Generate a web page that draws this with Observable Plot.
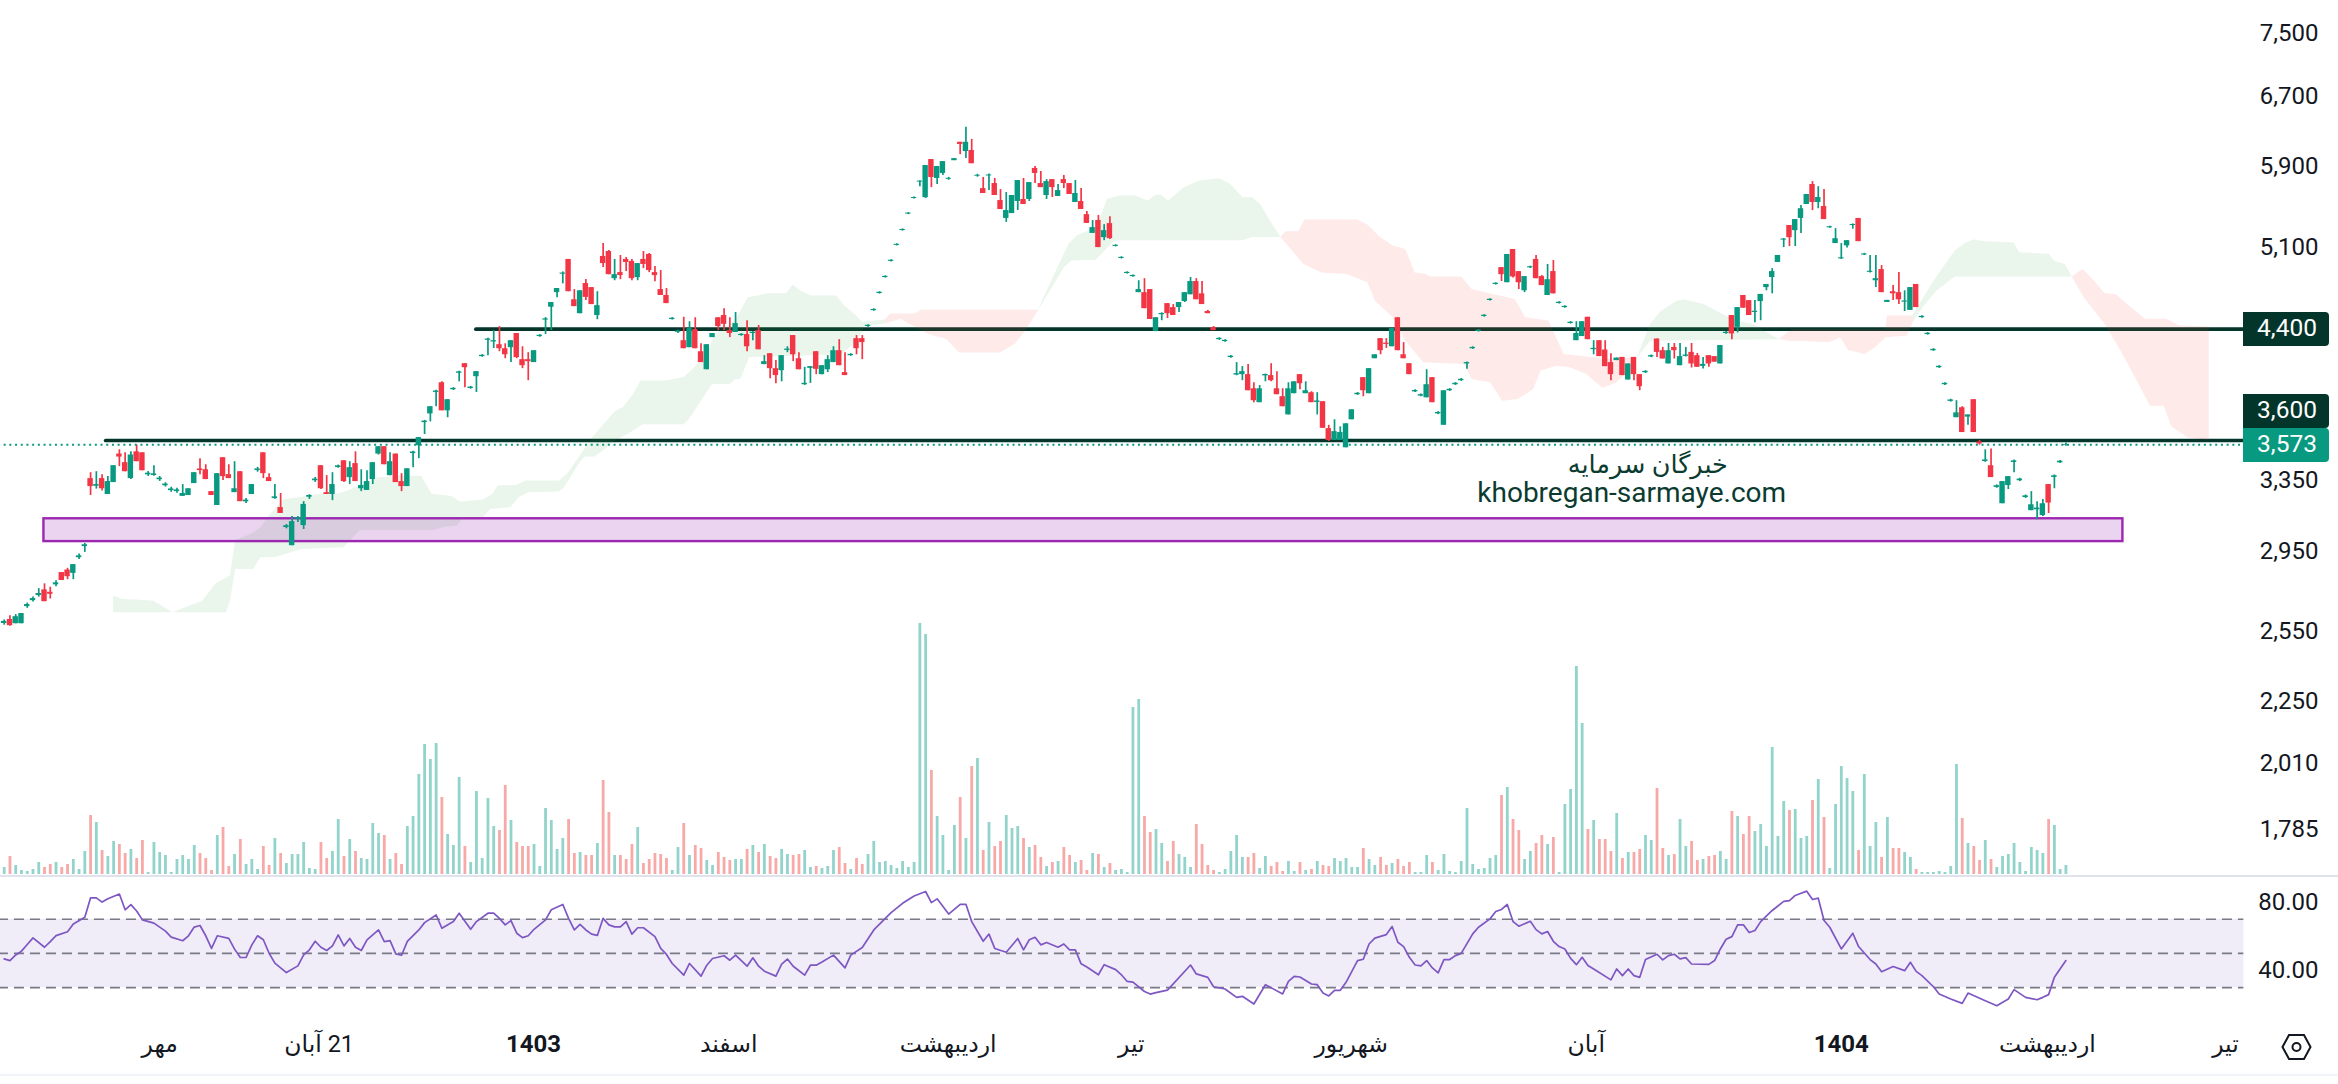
<!DOCTYPE html>
<html lang="fa">
<head>
<meta charset="utf-8">
<script src="https://cdn.jsdelivr.net/npm/d3@7"></script>
<script src="https://cdn.jsdelivr.net/npm/@observablehq/plot@0.6"></script>
<style>
html,body{margin:0;padding:0;background:#fff;}
#chart{position:relative;width:2338px;height:1084px;overflow:hidden;background:#fff;font-family:Roboto,"DejaVu Sans",sans-serif;}
#chart svg.layer{position:absolute;left:0;top:0;}
.tag{position:absolute;left:2243px;width:74px;height:34px;line-height:31px;color:#fff;font-size:24.5px;text-align:right;padding-right:12px;border-radius:0 4px 4px 0;}
.sep{position:absolute;left:0;width:2338px;}
</style>
</head>
<body>
<div id="chart"></div>
<script>
const opens=[
2588,2607,2587,2587,2668,2697,2722,2750,2738,2775,
2837,2850,2833,2914,2973,3361,3315,3361,3266,3337,
3513,3459,3361,3527,3521,3384,3380,3354,3318,3289,
3283,3255,3260,3331,3420,3415,3283,3202,3490,3385,
3277,3403,3223,3266,3410,3521,3367,3242,3190,3077,
2978,3121,3088,3250,3348,3440,3277,3266,3429,3471,
3367,3453,3300,3290,3355,3513,3560,3379,3513,3343,
3313,3516,3566,3718,3777,3926,3995,3798,3945,4064,
4135,3954,4039,4188,4313,4300,4279,4248,4256,4366,
4165,4165,4143,4342,4473,4578,4700,4859,4990,4640,
4525,4778,4743,4510,5017,5062,4820,4873,4990,4972,
4829,4990,5035,4873,4726,4676,4478,4376,4310,4256,
4397,4225,4090,4334,4492,4510,4389,4374,4350,4358,
4366,4389,4128,4210,4098,4083,4235,4350,4172,3981,
4100,4225,4054,4090,4143,4233,4069,4195,4326,4326,
4421,4550,4693,4830,4973,5118,5257,5415,5570,5737,
5578,5975,5775,5827,5766,5963,6164,6062,6073,5798,
5670,5801,5722,5549,5373,5420,5540,5560,5560,5880,
5722,5600,5763,5590,5763,5722,5530,5540,5410,5230,
5353,5190,5323,5109,4999,4865,4838,4700,4700,4726,
4381,4517,4608,4575,4575,4625,4682,4795,4690,4543,
4413,4318,4303,4181,4051,4054,4054,3952,3854,4045,
4047,3952,3896,3770,3917,4054,3917,3924,3856,3861,
3678,3600,3600,3553,3737,3910,4032,3917,4172,4326,
4291,4263,4492,4202,4135,3930,3900,3888,4032,3777,
3700,3938,3981,4010,4133,4248,4382,4502,4634,4770,
4917,4785,5080,4882,4716,4915,4990,4838,4676,4882,
4609,4575,4446,4310,4342,4496,4241,4310,4238,4143,
4158,4182,4015,4182,4054,4068,4185,4323,4233,4133,
4258,4120,4190,4220,4195,4115,4195,4188,4133,4366,
4510,4415,4676,4633,4535,4625,4743,4830,4963,5167,
5305,5256,5373,5510,5712,5530,5490,5283,5135,4995,
5114,5305,5373,5030,4875,4802,4900,4618,4708,4700,
4620,4552,4770,4493,4358,4233,4105,3981,3863,3751,
3819,3755,3875,3590,3466,3440,3308,3212,3319,3460,
3348,3248,3172,3177,3144,3325,3368,3458,3568];
const highs=[
2605,2625,2630,2635,2685,2715,2756,2780,2763,2795,
2837,2859,2878,2934,2990,3397,3403,3385,3373,3440,
3540,3521,3527,3571,3521,3404,3440,3374,3336,3309,
3303,3325,3300,3397,3484,3446,3283,3391,3490,3446,
3465,3403,3243,3325,3430,3521,3391,3325,3272,3094,
3139,3139,3224,3265,3368,3440,3379,3397,3444,3471,
3465,3527,3415,3409,3459,3560,3560,3521,3513,3391,
3421,3531,3619,3733,3826,3941,4002,3875,3960,4079,
4135,3969,4076,4203,4328,4389,4421,4286,4310,4366,
4263,4218,4233,4357,4493,4617,4735,4879,4990,4726,
4716,4812,4743,4708,5135,5071,4990,5026,5008,4990,
4953,5062,5044,4926,4891,4735,4493,4391,4496,4460,
4492,4286,4279,4366,4492,4566,4492,4535,4365,4468,
4381,4430,4195,4210,4158,4195,4263,4350,4218,4108,
4113,4225,4120,4195,4263,4318,4218,4210,4350,4350,
4436,4565,4708,4845,4988,5133,5272,5430,5585,5752,
5911,5975,5900,5953,5786,5985,6164,6333,6196,5818,
5785,5821,5775,5660,5630,5600,5753,5775,5732,5900,
5848,5763,5763,5712,5806,5722,5753,5670,5440,5353,
5402,5313,5390,5124,5014,4880,4853,4802,4820,4726,
4492,4532,4608,4600,4617,4700,4830,4820,4795,4552,
4421,4333,4318,4196,4143,4113,4128,3995,3975,4058,
4135,4076,3952,3995,4002,4054,4002,3931,3924,3861,
3700,3737,3690,3710,3805,3925,4032,4098,4202,4326,
4326,4405,4492,4295,4135,3945,3915,4090,4032,3792,
3938,3953,3996,4025,4148,4263,4397,4517,4649,4785,
4917,5035,5080,4882,4838,4930,5026,4847,4945,4980,
4624,4590,4461,4460,4460,4496,4310,4310,4310,4210,
4177,4182,4133,4182,4054,4083,4200,4323,4258,4288,
4288,4288,4258,4288,4212,4182,4195,4188,4273,4381,
4510,4575,4676,4633,4633,4685,4770,4908,5026,5182,
5305,5362,5500,5610,5742,5690,5660,5298,5275,5135,
5162,5320,5373,5045,5026,5026,4935,4635,4760,4873,
4716,4743,4770,4508,4373,4248,4120,3996,3878,3868,
3826,3770,3875,3600,3540,3545,3323,3343,3373,3475,
3363,3263,3283,3224,3236,3325,3383,3473,3583];
const lows=[
2580,2575,2587,2587,2660,2690,2714,2692,2705,2765,
2797,2801,2801,2905,2942,3260,3298,3286,3266,3337,
3434,3403,3355,3465,3409,3374,3375,3344,3310,3279,
3273,3255,3260,3331,3385,3355,3260,3202,3349,3361,
3277,3224,3213,3266,3400,3361,3343,3238,3156,3070,
2978,3105,3066,3237,3338,3295,3266,3230,3424,3337,
3325,3343,3283,3290,3325,3507,3446,3379,3337,3283,
3313,3428,3484,3639,3723,3826,3798,3751,3940,4002,
3959,3949,3925,4183,4195,4250,4225,4172,4143,4172,
4098,4010,4143,4337,4358,4389,4658,4775,4708,4583,
4525,4633,4600,4476,4917,4855,4802,4811,4882,4802,
4802,4908,4873,4793,4676,4608,4473,4366,4248,4256,
4248,4143,4090,4334,4389,4389,4334,4374,4345,4225,
4310,4240,4128,4024,3988,4002,4218,4150,4090,3976,
3990,4054,4054,4069,4143,4120,4047,4190,4202,4165,
4416,4545,4688,4825,4968,5113,5252,5410,5565,5690,
5570,5680,5712,5806,5756,5963,6027,5985,5930,5788,
5620,5650,5600,5460,5335,5420,5450,5510,5540,5722,
5680,5560,5580,5590,5670,5610,5530,5460,5325,5230,
5098,5162,5172,5104,4994,4860,4833,4700,4566,4478,
4381,4468,4485,4510,4535,4617,4682,4640,4600,4525,
4389,4313,4298,4176,4046,4010,3938,3854,3854,4002,
4002,3910,3826,3770,3917,3945,3917,3854,3770,3680,
3594,3600,3600,3553,3737,3905,3896,3917,4172,4202,
4250,4263,4233,4172,4054,3925,3895,3888,3854,3772,
3700,3933,3976,4005,4093,4243,4377,4497,4629,4765,
4795,4785,4826,4726,4700,4910,4820,4760,4676,4690,
4604,4570,4441,4310,4342,4318,4202,4188,4113,4010,
4158,4047,4015,4010,3938,4063,4180,4182,4170,4133,
4170,4120,4185,4103,4108,4095,4108,4146,4133,4361,
4318,4371,4570,4510,4452,4468,4716,4690,4963,5098,
5107,5107,5230,5510,5450,5468,5362,5278,5135,4990,
5095,5270,5153,5025,4870,4743,4700,4618,4633,4600,
4543,4552,4575,4488,4353,4228,4100,3976,3858,3751,
3652,3700,3652,3570,3461,3367,3303,3212,3295,3397,
3343,3243,3172,3120,3139,3156,3300,3453,3563];
const closes=[
2598,2578,2620,2635,2678,2707,2732,2692,2728,2785,
2797,2816,2878,2924,2983,3313,3325,3300,3343,3440,
3494,3403,3507,3465,3409,3394,3390,3364,3328,3299,
3293,3272,3300,3397,3410,3355,3260,3391,3373,3361,
3300,3224,3233,3325,3420,3391,3343,3252,3156,3087,
3110,3131,3208,3260,3358,3300,3266,3325,3439,3343,
3428,3343,3319,3343,3459,3560,3446,3465,3337,3313,
3421,3526,3619,3728,3826,3936,3798,3875,3955,4074,
4105,3964,4076,4198,4323,4310,4248,4202,4310,4180,
4120,4150,4233,4352,4483,4617,4735,4869,4708,4583,
4716,4660,4600,4591,4953,4855,4855,4847,4963,4820,
4953,4945,4891,4847,4676,4608,4488,4386,4248,4405,
4248,4143,4279,4366,4421,4439,4366,4445,4360,4263,
4376,4240,4150,4098,4047,4195,4245,4202,4090,3991,
4113,4093,4120,4165,4233,4120,4047,4205,4248,4295,
4431,4560,4703,4840,4983,5128,5267,5425,5580,5747,
5911,5785,5900,5953,5776,5985,6140,6164,5930,5808,
5620,5811,5600,5460,5450,5600,5753,5510,5732,5827,
5680,5742,5680,5650,5722,5610,5620,5460,5325,5285,
5098,5256,5181,5119,5009,4875,4848,4726,4566,4478,
4492,4527,4525,4510,4617,4700,4795,4640,4600,4525,
4389,4328,4313,4191,4061,4076,3938,3868,3952,4055,
4010,3910,3826,3952,4002,3988,3938,3854,3866,3680,
3600,3658,3652,3710,3805,3920,3938,4098,4202,4233,
4281,4405,4233,4172,4054,3940,3910,3981,3854,3787,
3938,3948,3991,4020,4143,4258,4392,4512,4644,4780,
4855,5035,4835,4785,4838,4925,4820,4760,4811,4690,
4619,4585,4456,4366,4460,4318,4251,4188,4113,4054,
4177,4047,4133,4054,3967,4078,4195,4220,4170,4233,
4233,4188,4200,4133,4108,4130,4133,4146,4273,4376,
4363,4575,4570,4510,4545,4685,4770,4882,5026,5177,
5190,5362,5468,5610,5530,5580,5362,5293,5180,5005,
5162,5315,5153,5040,4885,4820,4700,4635,4690,4640,
4630,4743,4575,4503,4368,4243,4115,3991,3873,3784,
3652,3770,3652,3578,3476,3367,3318,3343,3373,3470,
3358,3258,3206,3187,3212,3216,3378,3468,3573];
const volumes=[
21,54,27,12,9,15,36,21,30,36,
21,30,45,15,69,177,156,72,54,99,
90,63,75,48,102,6,96,66,57,6,
45,57,45,87,63,48,12,117,141,24,
60,105,30,45,15,84,27,108,63,33,
60,60,96,18,15,96,48,69,165,54,
105,69,48,45,153,123,117,45,63,30,
144,174,300,390,345,393,231,120,87,291,
84,36,249,48,228,144,132,267,162,96,
84,84,90,24,198,162,75,108,165,63,
66,57,57,93,282,186,57,57,45,90,
141,33,45,63,60,48,12,81,153,57,
87,78,42,27,66,51,42,45,45,75,
87,66,90,54,48,75,60,57,60,72,
21,24,18,24,72,81,33,15,48,30,
60,99,36,39,27,18,39,21,36,753,
720,312,174,117,12,147,231,108,324,348,
72,156,84,99,177,138,144,108,81,87,
51,24,36,39,81,57,36,42,12,63,
60,21,33,12,15,6,501,525,174,126,
135,93,39,99,60,51,21,150,90,27,
12,6,15,69,117,51,51,63,18,54,
24,36,9,39,9,36,12,15,39,27,
24,48,39,48,21,21,78,45,27,51,
27,33,45,24,36,6,6,57,36,12,
60,9,6,39,198,30,15,18,48,57,
237,261,165,132,45,69,93,117,90,111,
6,210,255,624,453,135,162,105,105,69,
183,48,66,66,75,117,102,258,78,57,
60,165,84,99,42,45,54,57,69,45,
189,174,120,174,129,150,84,381,114,219,
192,195,108,114,222,285,171,18,210,324,
288,249,72,300,84,156,51,171,78,78,
66,51,15,6,6,6,9,6,24,330,
168,93,84,42,102,45,21,54,60,93,
36,9,81,72,63,165,147,15,27];
const rsiSamples=[[0,46.8],[1,45.8],[2,49.1],[3,51.3],[4,55.2],[5,59.1],[7,53.6],[8,56.9],[9,60.4],[11,62.7],[12,67.2],[14,71.1],[15,82.5],[16,82.5],[17,80],[18,82],[20,84.7],[21,75.5],[22,78.5],[23,74.8],[24,69.6],[26,67.7],[28,63],[29,59.5],[31,57.4],[32,60.3],[33,65.4],[34,66.3],[35,60.3],[36,52.9],[37,60.3],[39,58.8],[40,52.5],[41,47.6],[42,47.6],[43,55],[44,60.3],[45,58],[46,50.1],[47,44.3],[49,38.8],[51,42.7],[52,49.1],[53,52.1],[54,57.1],[55,53.6],[56,51.7],[57,54.4],[58,60.8],[59,54.4],[60,58.7],[61,53.6],[62,51.7],[63,57.9],[65,63.7],[66,56.9],[67,57.5],[68,49.7],[69,48.9],[70,57],[72,63.7],[73,68],[75,72.5],[76,64.7],[78,68.6],[79,73.5],[81,64.1],[82,68.6],[84,73.5],[85,73.5],[86,70.5],[87,66.7],[88,69.2],[89,61.8],[90,59.2],[91,60.3],[92,64.1],[94,69.6],[95,75.5],[97,78.6],[98,70.5],[99,63.7],[100,67],[101,63.7],[102,61.3],[103,60.5],[104,70.5],[105,66.7],[106,65.5],[107,65.5],[108,68.6],[109,61.3],[110,65],[111,65],[113,59.8],[114,52.9],[115,49.4],[116,44.1],[118,37.3],[119,44.1],[121,36.7],[122,43.1],[123,47],[125,48.6],[126,46],[127,49],[129,42.5],[130,47.4],[131,42.5],[132,39.6],[134,36.7],[135,43.7],[136,46.7],[137,42.5],[139,37.3],[140,43.1],[141,43.1],[142,45],[144,49],[146,41.5],[147,49],[149,53.4],[151,63.7],[153,70.5],[154,73.8],[156,79.3],[158,83.6],[160,86.2],[161,79.7],[162,81.9],[164,73],[166,78.7],[167,78.7],[168,68.6],[170,57.1],[171,61.3],[172,52.9],[174,50.7],[176,58.7],[177,52.1],[178,58],[179,59.4],[180,55],[181,56.4],[183,53.6],[184,55.5],[185,52.1],[186,52.1],[187,43.9],[188,42],[190,37.5],[191,43.4],[193,40.5],[194,37.5],[195,33.6],[196,33.2],[198,27.7],[199,26.2],[200,27.1],[202,28.5],
[206,43.2],[207,38],[209,36],[210,30.5],[212,29.2],[214,24.3],[215,24.9],[217,20.4],[219,31.7],[222,26.3],[223,33.7],[224,36.6],[225,36.2],[227,32.1],[228,31.7],[229,26.8],[230,25.1],[231,28.4],[232,28.4],[233,33.1],[235,45.8],[236,46.6],[237,55.5],[238,58.9],[240,61],[241,65.7],[242,56.5],[243,54],[244,47.7],[245,43.2],[246,42.7],[247,45.8],[248,41.5],[249,38.6],[250,46.4],[251,46.4],[252,48.7],[253,50],[255,61.4],[256,65.3],[258,70.2],[259,74.5],[260,75.7],[261,78.6],[262,68.6],[263,65.9],[265,68.8],[266,63.9],[267,61.4],[268,62.8],[269,57.1],[270,54],[271,52.6],[272,47.1],[273,43.4],[274,47.7],[275,42.9],[276,40.9],[279,34.5],[280,40.9],[281,37],[282,40.9],[283,37],[284,36],[285,46.4],[287,49.5],[288,46.2],[289,48.7],[290,49.5],[291,46.8],[292,47.5],[293,43.8],[296,43.6],[297,45.8],[298,52.6],[299,58.3],[300,59.8],[301,66.7],[302,66.7],[303,62.2],[304,63.4],[305,68.6],[307,75.1],[309,80.4],[310,80.9],[311,83.9],[313,86.4],[314,81.5],[315,82.3],[316,69.2],[317,65.3],[319,52.6],[321,61.8],[322,54],[324,46.4],[325,43.8],[326,39.3],[328,42.3],[330,39.9],[331,44.8],[332,39.5],[333,37],[335,30.5],[336,26.3],[338,23.3],[340,20.8],[341,26.8],[344,22.3],[346,19.4],[348,23.3],[349,28.8],[351,24.3],[353,22.9],[354,24.3],[355,25.9],[356,36],[358,45.8]];
// Ichimoku cloud outlines, [bar, price]
const greenA=[[18.9,2721],[20.6,2705],[22.8,2702],[25.9,2697],[29.2,2641],[34.4,2697],[36.6,2780],[39.2,2822],[40.1,3008],[42.8,3041],[44.5,3078],[45.9,3144],[48.5,3240],[51.2,3250],[54.7,3270],[57.8,3270],[59.6,3290],[64.9,3369],[69.3,3379],[72.4,3379],[74.2,3270],[77.7,3257],[79.1,3224],[83.1,3236],[84.8,3270],[85.7,3319],[88.8,3323],[90.6,3349],[96.3,3349],[97.7,3389],[99.5,3481],[102.1,3621],[104.3,3719],[106.1,3798],[107.4,3822],[109.2,3915],[110.5,4012],[114.9,4012],[118,4037],[119.8,4108],[122,4208],[123.4,4363],[126.9,4470],[129.1,4661],[132.7,4694],[135.8,4694],[136.9,4769],[138.3,4716],[140.1,4676],[144.5,4676],[145.9,4591],[147.6,4524],[149,4457],[152.9,4478]];
const greenB=[[18.9,2641],[38.5,2641],[39.2,2697],[40.1,2855],[43.2,2855],[44.5,2916],[47.2,2919],[51.6,2960],[58.9,2969],[61.8,3063],[74.6,3063],[76.4,3082],[78.6,3088],[79.5,3126],[83.1,3135],[84.4,3182],[87.9,3192],[89.3,3250],[91,3279],[96.3,3283],[97.2,3309],[99.9,3461],[100.8,3498],[102.5,3498],[104.3,3545],[105.6,3589],[109.2,3665],[110.9,3707],[118,3707],[118.9,3742],[122.9,3986],[126,3986],[126.9,4022],[127.8,4022],[129.4,4185],[138.2,4195],[145.4,4208],[148.1,4310],[149.4,4427],[152.9,4445]];
const redA=[[152.9,4478],[153.8,4527],[158,4527],[159.2,4558],[179.5,4558]];
const redB=[[152.9,4445],[155.6,4483],[157.4,4437],[160.5,4363],[163.6,4323],[165.8,4220],[172.9,4220],[175.5,4286],[177.3,4389],[179.5,4552]];
const green2A=[[179.5,4558],[182.6,4890],[184.8,5130],[186.2,5210],[189.7,5290],[191.5,5566],[193.7,5600],[196.4,5600],[198.6,5549],[199.9,5607],[200.8,5607],[202.1,5549],[204.8,5684],[207.5,5753],[211,5777],[212.9,5718],[215,5582],[216.7,5582],[218.1,5516],[220.3,5305],[221.6,5196]];
const green2B=[[179.5,4552],[184,4920],[185.3,4981],[189.5,4987],[192.8,5165],[215,5165],[216.7,5196],[221.6,5196]];
const red2A=[[221.6,5196],[222.5,5250],[224.7,5250],[225.8,5362],[234.9,5362],[236.7,5314],[238.9,5196],[241.1,5117],[243.3,5086],[244.9,4875],[246.8,4860],[247.7,4838],[253,4838],[254.8,4730],[258.4,4688],[262.3,4647],[264.1,4496],[268.1,4470],[270.8,4208],[273.7,4195],[278.4,4170],[283.5,4182]];
const red2B=[[221.6,5196],[225.6,4950],[228.7,4875],[233.1,4860],[236.7,4790],[238,4633],[241.1,4496],[243.3,4310],[246.4,4146],[253.5,4133],[254.8,4022],[258,3998],[260.1,3868],[262.8,3880],[265.5,3950],[266.8,4084],[269.5,4120],[271.9,4108],[274.7,4058],[277.5,3959],[279.8,3995],[283.1,4108],[283.5,4182]];
const green3A=[[283.5,4182],[285.8,4443],[287.7,4549],[290.5,4633],[291.8,4642],[295.1,4605],[298.3,4522],[300.7,4470],[303.5,4443],[308.1,4323]];
const green3B=[[283.5,4182],[285.8,4310],[308.1,4321]];
const red3A=[[308.1,4323],[310.4,4402],[326.7,4402],[326.9,4510],[331.3,4510]];
const red3B=[[308.1,4323],[310.4,4305],[311.8,4310],[316.9,4298],[318.8,4337],[320.2,4238],[323,4208],[324.8,4258],[326.7,4337],[330.4,4350],[331.3,4443]];
const green4A=[[331.3,4510],[335,4803],[338.7,5071],[340.6,5146],[342,5172],[343.8,5156],[348.9,5146],[349.9,5056],[355,5041],[355.9,4981],[357.8,4950],[359,4838]];
const green4B=[[331.3,4450],[333.1,4578],[335.5,4716],[338.7,4838],[359,4838]];
const red4A=[[359,4838],[360.9,4905],[362.9,4803],[364.7,4698],[366.6,4688],[369.3,4578],[371.7,4483],[375.4,4483],[377.7,4430],[382.8,4421]];
const red4B=[[359,4838],[361.1,4661],[364.7,4443],[367.5,4233],[370.3,4012],[372.6,3833],[375,3833],[376.3,3692],[379.1,3621],[382.8,3603]];
const priceTicks=[7500,6700,5900,5100,3350,2950,2550,2250,2010,1785];
const rsiTicks=[80,40];
const rsiLevels=[70,50,30];
const levelPrices=[4400,3600];
const levelStarts=[82,17.7];
const lastPrice=3573;
const zoneLow=3000, zoneHigh=3126, zoneStart=6.9, zoneEnd=367.9;
const paneEnd=388.9;
const axisLabels=["مهر","\u200F21 آبان","1403","اسفند","اردیبهشت","تیر","شهریور","آبان","1404","اردیبهشت","تیر"];
const axisBars=[27,54.7,91.9,125.8,163.9,195.7,233.9,274.7,319,354.8,385.7];
const axisBold=[false,false,true,false,false,false,false,false,true,false,false];

const UP="#089981", DOWN="#f23645";
const rows=opens.map((o,i)=>({i,o,h:highs[i],l:lows[i],c:closes[i],v:volumes[i]}));
const up=rows.filter(d=>d.c>=d.o), down=rows.filter(d=>d.c<d.o);
const X={domain:[0,358],range:[3.7,2065.4],axis:null};
const FONT='Roboto,"DejaVu Sans",sans-serif';
const base={width:2338,height:1084,marginTop:0,marginLeft:0,marginBottom:0,marginRight:20,
  style:{background:"transparent",fontFamily:FONT,overflow:"visible"}};
const cloud=(a,b,col)=>Plot.line(a.concat(b.slice().reverse()),{x:d=>d[0],y:d=>d[1],stroke:"none",fill:col,fillOpacity:0.11});

const volumePlot=Plot.plot({...base,x:X,y:{type:"linear",domain:[0,753],range:[874,623],axis:null},marks:[
  Plot.ruleX(up,{x:"i",y1:()=>0,y2:"v",stroke:"#92d3cc",strokeWidth:2.8}),
  Plot.ruleX(down,{x:"i",y1:()=>0,y2:"v",stroke:"#f7a9a7",strokeWidth:2.8})
]});

const pricePlot=Plot.plot({...base,x:X,y:{type:"log",domain:[7500,1785],range:[33,829],axis:null},marks:[
  Plot.ruleY(levelPrices,{y:d=>d,x1:(d,i)=>levelStarts[i],x2:()=>paneEnd,stroke:"#03352b",strokeWidth:3.7,strokeLinecap:"round"}),
  cloud(greenA,greenB,"#43a047"),cloud(redA,redB,"#f44336"),
  cloud(green2A,green2B,"#43a047"),cloud(red2A,red2B,"#f44336"),
  cloud(green3A,green3B,"#43a047"),cloud(red3A,red3B,"#f44336"),
  cloud(green4A,green4B,"#43a047"),cloud(red4A,red4B,"#f44336"),
  Plot.rect([0],{x1:()=>zoneStart,x2:()=>zoneEnd,y1:()=>zoneLow,y2:()=>zoneHigh,fill:"#9c27b0",fillOpacity:0.2,stroke:"#9c27b0",strokeWidth:2.4}),
  Plot.ruleX(up,{x:"i",y1:"l",y2:"h",stroke:UP,strokeWidth:1.7}),
  Plot.ruleX(down,{x:"i",y1:"l",y2:"h",stroke:DOWN,strokeWidth:1.7}),
  Plot.rect(up,{x1:d=>d.i-0.47,x2:d=>d.i+0.47,y1:"o",y2:"c",fill:UP}),
  Plot.rect(down,{x1:d=>d.i-0.47,x2:d=>d.i+0.47,y1:"o",y2:"c",fill:DOWN}),
  Plot.ruleY([lastPrice],{x1:()=>-1,x2:()=>paneEnd,stroke:UP,strokeWidth:2,strokeDasharray:"2 3.7"}),
  Plot.axisY(priceTicks,{anchor:"right",tickSize:0,tickPadding:0,textAnchor:"end",fontSize:24,fill:"#131722",label:null,tickFormat:d3.format(",")}),
  Plot.text(["خبرگان سرمایه"],{x:()=>285.4,y:()=>3445,fontSize:25.5,fill:"#0b3b30",fontFamily:FONT}),
  Plot.text(["khobregan-sarmaye.com"],{x:()=>282.6,y:()=>3275,fontSize:28,fill:"#0b3b30",fontFamily:FONT})
]});

const rsiPlot=Plot.plot({...base,x:X,y:{type:"linear",domain:[80,40],range:[901.6,970],axis:null},marks:[
  Plot.rect([0],{x1:()=>-1,x2:()=>paneEnd,y1:()=>30,y2:()=>70,fill:"#7e57c2",fillOpacity:0.115}),
  Plot.ruleY(rsiLevels,{x1:()=>-1,x2:()=>paneEnd,stroke:"#787b86",strokeWidth:1.6,strokeDasharray:"10 6"}),
  Plot.line(rsiSamples,{x:d=>d[0],y:d=>d[1],stroke:"#7e57c2",strokeWidth:1.7}),
  Plot.axisY(rsiTicks,{anchor:"right",tickSize:0,tickPadding:0,textAnchor:"end",fontSize:24,fill:"#131722",label:null,tickFormat:d3.format(".2f")}),
  Plot.text(axisLabels,{filter:(d,i)=>!axisBold[i],x:(d,i)=>axisBars[i],text:d=>d,frameAnchor:"bottom",lineAnchor:"middle",dy:-40,fontSize:23.5,fill:"#131722"}),
  Plot.text(axisLabels,{filter:(d,i)=>axisBold[i],x:(d,i)=>axisBars[i],text:d=>d,frameAnchor:"bottom",lineAnchor:"middle",dy:-40,fontSize:24,fontWeight:700,fill:"#131722"})
]});

const root=document.getElementById("chart");
[volumePlot,pricePlot,rsiPlot].forEach(s=>{s.classList.add("layer");root.appendChild(s);});
const addDiv=(cls,css,txt)=>{const e=document.createElement("div");e.className=cls;e.style.cssText=css;if(txt)e.textContent=txt;root.appendChild(e);};
addDiv("sep","top:875px;height:2px;background:#e0e3eb;");
addDiv("sep","top:1074px;height:2px;background:#f0f3fa;");
addDiv("tag","top:312px;background:#03352b;","4,400");
addDiv("tag","top:394px;background:#03352b;","3,600");
addDiv("tag","top:428px;background:#089981;","3,573");
const ns="http://www.w3.org/2000/svg";
const ic=document.createElementNS(ns,"svg");
ic.setAttribute("width","34");ic.setAttribute("height","28");ic.setAttribute("viewBox","0 0 34 28");
ic.style.cssText="position:absolute;left:2279px;top:1033px;";
ic.innerHTML='<path d="M3.5 14 L10 2 H25 L31.5 14 L25 26 H10 Z" fill="none" stroke="#131722" stroke-width="2"/><circle cx="17.5" cy="14" r="4" fill="none" stroke="#131722" stroke-width="2"/>';
root.appendChild(ic);
</script>
</body>
</html>
